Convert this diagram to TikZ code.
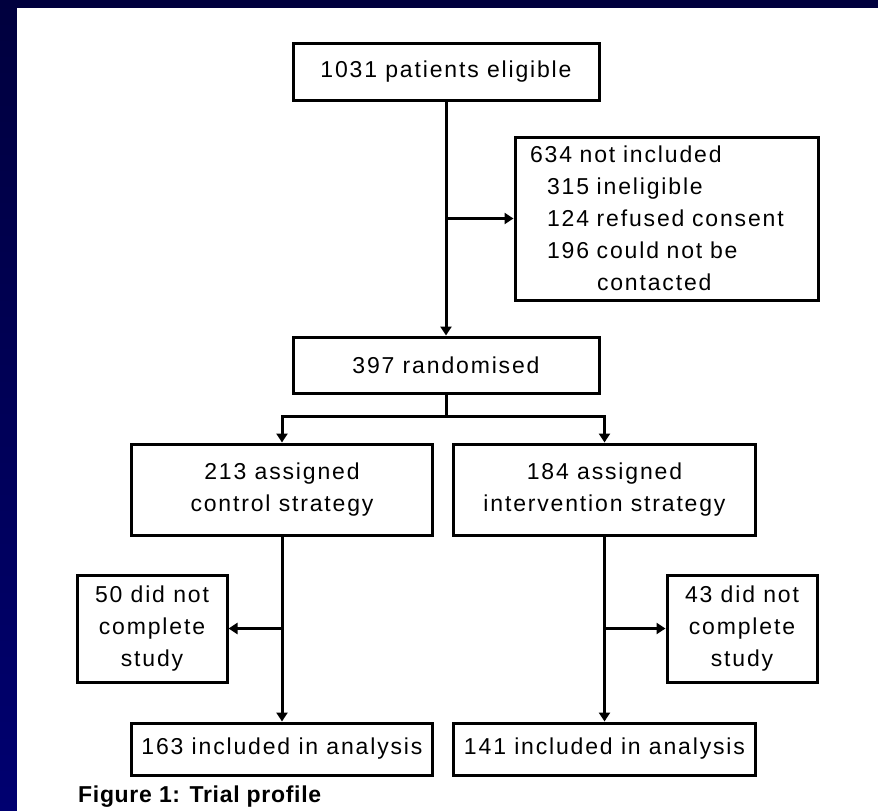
\documentclass[tikz,border=0pt]{standalone}
\usepackage{fontspec}
\setmainfont{Liberation Sans}[LetterSpace=8]
\newfontfamily\captionfont{Liberation Sans}[LetterSpace=3]
\usetikzlibrary{arrows.meta}
\definecolor{navytop}{RGB}{0,0,62}
\definecolor{navybottom}{RGB}{0,0,112}
\tikzset{
  box/.style={draw=black, line width=3pt, fill=white, inner sep=0pt,
    align=center, font=\fontsize{23}{32}\selectfont},
  link/.style={draw=black, line width=3pt},
  arr/.style={link, -{Triangle[width=11pt,length=9pt]}},
}
\begin{document}
\begin{tikzpicture}[x=1pt, y=-1pt]
  % page background: navy frame with a white panel
  \useasboundingbox (0,0) rectangle (878,811);
  \shade[top color=navytop, bottom color=navybottom] (0,0) rectangle (878,811);
  \fill[white] (17,8) rectangle (878,811);

  % boxes
  \node[box, minimum width=306pt, minimum height=57pt] (elig) at (446,71.5) {1031 patients eligible};
  \node[box, minimum height=163pt, text width=273pt, inner xsep=15pt, align=left] (excl) at (666.5,218.5)
    {634 not included\\
     \hspace*{17pt}315 ineligible\\
     \hspace*{17pt}124 refused consent\\
     \hspace*{17pt}196 could not be\\
     \hspace*{67pt}contacted};
  \node[box, minimum width=306pt, minimum height=56pt] (rand) at (446,365) {397 randomised};
  \node[box, minimum width=301pt, minimum height=91pt] (ctrl) at (282,489.5) {213 assigned\\control strategy};
  \node[box, minimum width=302pt, minimum height=91pt] (intv) at (604.5,489.5) {184 assigned\\intervention strategy};
  \node[box, minimum width=150pt, minimum height=107pt] (ctrlout) at (152,628.5) {50 did not\\complete\\study};
  \node[box, minimum width=150pt, minimum height=107pt] (intvout) at (742,628.5) {43 did not\\complete\\study};
  \node[box, minimum width=301pt, minimum height=52pt] (ctrlan) at (282,749) {163 included in analysis};
  \node[box, minimum width=302pt, minimum height=52pt] (intvan) at (604.5,749) {141 included in analysis};

  % caption
  \node[anchor=west, inner sep=0pt, font=\captionfont\fontsize{23}{28}\selectfont\bfseries] (cap) at (78,797)
    {Figure 1: Trial profile};

  % connectors
  \coordinate (j1) at (elig.south |- excl.west);
  \draw[arr] (elig.south) -- (rand.north);
  \draw[arr] (j1) -- (excl.west);

  \coordinate (split) at (446,416);
  \draw[link] (rand.south) -- (split);
  \draw[arr] (split) -| (ctrl.north);
  \draw[arr] (split) -| (intv.north);

  \coordinate (j2) at (ctrl.south |- ctrlout.east);
  \draw[arr] (ctrl.south) -- (ctrlan.north);
  \draw[arr] (j2) -- (ctrlout.east);

  \coordinate (j3) at (intv.south |- intvout.west);
  \draw[arr] (intv.south) -- (intvan.north);
  \draw[arr] (j3) -- (intvout.west);
\end{tikzpicture}
\end{document}
